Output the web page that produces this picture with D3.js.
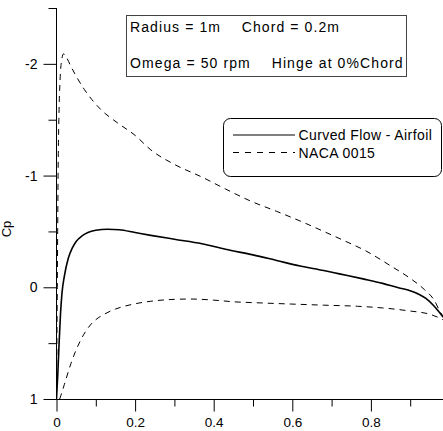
<!DOCTYPE html>
<html><head><meta charset="utf-8">
<script src="https://cdn.jsdelivr.net/npm/d3@7"></script>
<style>body{margin:0;background:#fff}svg{display:block}text{font-family:"Liberation Sans",Arial,sans-serif}</style>
</head><body>
<svg id="c" width="443" height="431"></svg>
<script>
const solidX = [0,0.003,0.006,0.01,0.014,0.02,0.03,0.04,0.05,0.065,0.08,0.1,0.13,0.16,0.2,0.24,0.3,0.37,0.43,0.5,0.56,0.62,0.68,0.72,0.78,0.83,0.87,0.9,0.94,0.96,0.98,1.0];
const solidY = [1.0,0.8,0.55,0.25,0.05,-0.1,-0.26,-0.35,-0.41,-0.46,-0.49,-0.51,-0.52,-0.515,-0.49,-0.465,-0.43,-0.39,-0.34,-0.29,-0.24,-0.19,-0.15,-0.12,-0.075,-0.035,0.005,0.03,0.1,0.165,0.25,0.33];
const upperX = [0,0.001,0.002,0.003,0.004,0.006,0.009,0.013,0.018,0.025,0.037,0.05,0.071,0.09,0.113,0.156,0.2,0.24,0.3,0.368,0.43,0.495,0.56,0.622,0.68,0.724,0.79,0.851,0.9,0.936,0.96,0.978,1.0];
const upperY = [1.0,0.5,0.0,-0.5,-1.0,-1.5,-1.85,-2.03,-2.09,-2.06,-1.975,-1.89,-1.77,-1.68,-1.59,-1.47,-1.36,-1.23,-1.1,-0.99,-0.88,-0.77,-0.68,-0.59,-0.5,-0.43,-0.32,-0.19,-0.08,0.02,0.11,0.23,0.33];
const lowerX = [0.008,0.011,0.02,0.037,0.05,0.062,0.075,0.088,0.1,0.122,0.15,0.19,0.24,0.3,0.342,0.4,0.452,0.52,0.597,0.68,0.766,0.83,0.894,0.953,0.983,1.0];
const lowerY = [1.0,0.97,0.87,0.68,0.56,0.47,0.39,0.33,0.29,0.24,0.195,0.155,0.125,0.108,0.105,0.115,0.13,0.14,0.15,0.16,0.17,0.185,0.21,0.245,0.29,0.33];
const xMajor = [0,0.2,0.4,0.6,0.8];
const xMinor = [0.1,0.3,0.5,0.7,0.9];
const yMajor = [-2,-1,0,1];
const yMinor = [-2.5,-1.5,-0.5,0.5];
const legendLabels = ["Curved Flow - Airfoil","NACA 0015"];
const infoLine1 = ["Radius = 1m","Chord = 0.2m"];
const infoLine2 = ["Omega = 50 rpm","Hinge at 0%Chord"];
const yTitle = "Cp";

const svg = d3.select("#c");
const x = d3.scaleLinear().domain([0,1]).range([56.5,449.5]);
const y = d3.scaleLinear().domain([-2.5,1]).range([8,399]);
const fmt = d => String(d);

svg.append("defs").append("clipPath").attr("id","clip").append("rect")
  .attr("x",56.5).attr("y",0).attr("width",400).attr("height",400);

// axes
const ax = svg.append("g").attr("stroke","#000").attr("fill","none").attr("stroke-width",1);
ax.append("line").attr("x1",56.5).attr("x2",443).attr("y1",399.5).attr("y2",399.5);
ax.append("line").attr("x1",56.5).attr("x2",56.5).attr("y1",y(-2.5)).attr("y2",399.5);
const gx = svg.append("g").attr("transform","translate(0,399.5)");
gx.call(d3.axisBottom(x).tickValues(xMajor).tickSize(12).tickSizeOuter(0).tickFormat(fmt));
gx.select(".domain").remove();
gx.selectAll("text").attr("font-size",13.5).attr("font-family","Liberation Sans, Arial").attr("dy",null).attr("y",27.5).attr("fill","#000");
const gx2 = svg.append("g").attr("transform","translate(0,399.5)");
gx2.call(d3.axisBottom(x).tickValues(xMinor).tickSize(7).tickFormat(""));
gx2.select(".domain").remove();
const gy = svg.append("g").attr("transform","translate(56.5,0)");
gy.call(d3.axisLeft(y).tickValues(yMajor).tickSize(13).tickSizeOuter(0).tickFormat(fmt));
gy.select(".domain").remove();
gy.selectAll("text").attr("font-size",14).attr("font-family","Liberation Sans, Arial").attr("x",-19).attr("fill","#000");
const gy2 = svg.append("g").attr("transform","translate(56.5,0)");
gy2.call(d3.axisLeft(y).tickValues(yMinor).tickSize(8).tickFormat(""));
gy2.select(".domain").remove();

// y title
svg.append("text").attr("transform","translate(11,229) rotate(-90)")
  .attr("text-anchor","middle").attr("font-size",13).text(yTitle);

// curves
const line = d3.line().x(d=>x(d[0])).y(d=>y(d[1])).curve(d3.curveMonotoneX);
const plot = svg.append("g").attr("clip-path","url(#clip)").attr("fill","none");
plot.append("path").datum(upperX.map((v,i)=>[v,upperY[i]])).attr("d",line)
  .attr("stroke","#000").attr("stroke-width",1).attr("stroke-dasharray","6,5");
plot.append("path").datum(lowerX.map((v,i)=>[v,lowerY[i]])).attr("d",line)
  .attr("stroke","#000").attr("stroke-width",1).attr("stroke-dasharray","6,5");
plot.append("path").datum(solidX.map((v,i)=>[v,solidY[i]])).attr("d",line)
  .attr("stroke","#000").attr("stroke-width",1.6);

// info box
svg.append("rect").attr("x",126.5).attr("y",15.5).attr("width",280).attr("height",61)
  .attr("fill","#fff").attr("stroke","#444");
const info = svg.append("g").attr("font-size",14).attr("letter-spacing","1.1px");
info.append("text").attr("x",130).attr("y",31.5).text(infoLine1[0]);
info.append("text").attr("x",241.7).attr("y",31.5).text(infoLine1[1]);
info.append("text").attr("x",130).attr("y",68).text(infoLine2[0]);
info.append("text").attr("x",271.7).attr("y",68).text(infoLine2[1]);

// legend
svg.append("rect").attr("x",223.5).attr("y",118.5).attr("width",218).attr("height",58).attr("rx",7)
  .attr("fill","#fff").attr("stroke","#000");
svg.append("line").attr("x1",233).attr("x2",295).attr("y1",135).attr("y2",135).attr("stroke","#000").attr("stroke-width",1.2);
svg.append("line").attr("x1",233).attr("x2",295).attr("y1",152.5).attr("y2",152.5).attr("stroke","#000").attr("stroke-dasharray","6,6");
const lg = svg.append("g").attr("font-size",14).attr("letter-spacing","0.4px");
lg.append("text").attr("x",298.5).attr("y",140).text(legendLabels[0]);
lg.append("text").attr("x",298.5).attr("y",157.5).text(legendLabels[1]);
</script>
</body></html>
